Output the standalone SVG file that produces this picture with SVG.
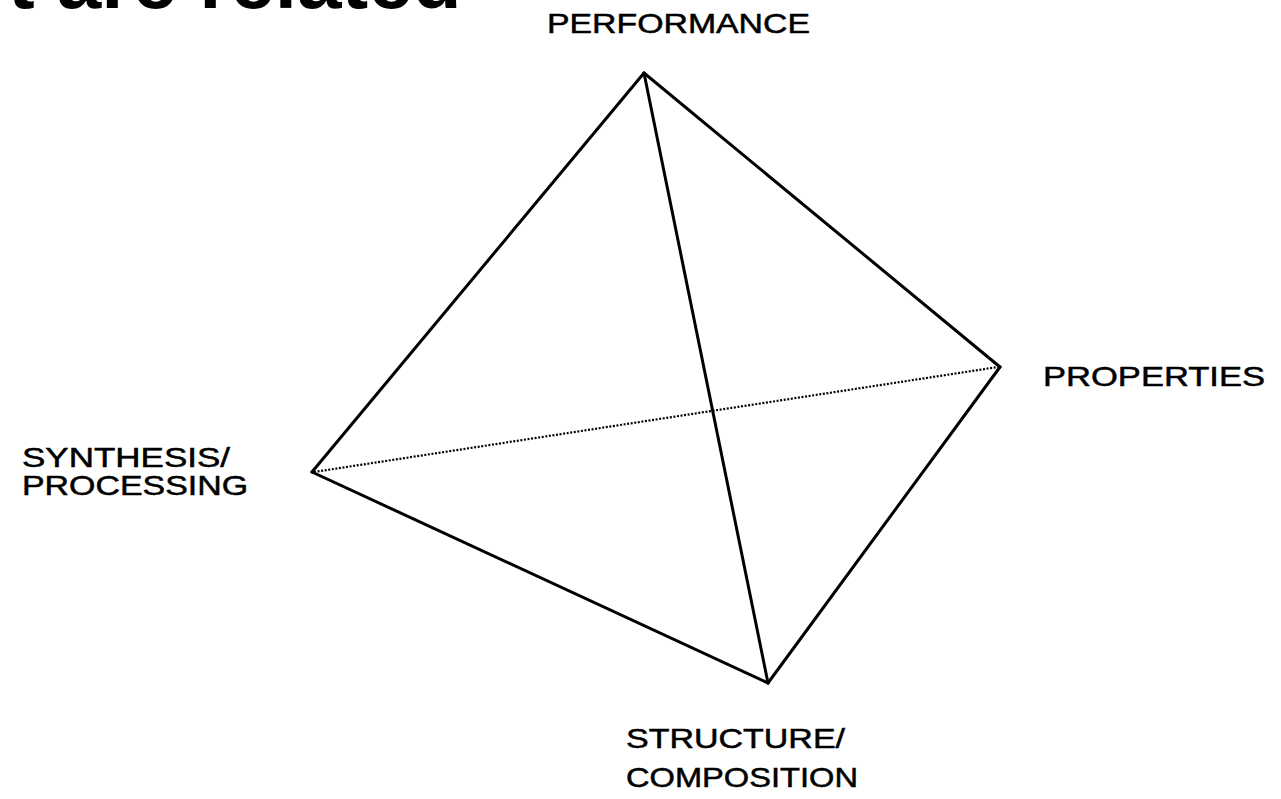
<svg xmlns="http://www.w3.org/2000/svg" width="1281" height="799" viewBox="0 0 1281 799">
<style>
.lbl{font-family:"Liberation Sans",Arial,sans-serif;font-size:28px;fill:#000;stroke:#000;stroke-width:0.5}
.edge{stroke:#000;stroke-width:3;fill:none;stroke-linecap:round;stroke-linejoin:round}
.hidden{stroke:#000;stroke-width:2.2;fill:none;stroke-dasharray:2 1.6}
.title{font-family:"Liberation Sans",Arial,sans-serif;font-size:80px;font-weight:bold;fill:#000}
</style>
<rect width="1281" height="799" fill="#fff"/>
<text class="title" x="8" y="8">t are related</text>
<g id="connectors">
<line class="hidden" x1="314" y1="472" x2="998" y2="367"/>
<line class="edge" x1="644" y1="73" x2="312" y2="472"/>
<line class="edge" x1="644" y1="73" x2="1000" y2="367"/>
<line class="edge" x1="644" y1="73" x2="768" y2="683"/>
<line class="edge" x1="312" y1="472" x2="768" y2="683"/>
<line class="edge" x1="1000" y1="367" x2="768" y2="683"/>
</g>
<g id="performance"><text class="lbl" x="547" y="33" textLength="263" lengthAdjust="spacingAndGlyphs">PERFORMANCE</text></g>
<g id="properties"><text class="lbl" x="1043" y="386" textLength="222" lengthAdjust="spacingAndGlyphs">PROPERTIES</text></g>
<g id="synthesis"><text class="lbl" x="22" y="467" textLength="208" lengthAdjust="spacingAndGlyphs">SYNTHESIS/</text><text class="lbl" x="22" y="495" textLength="226" lengthAdjust="spacingAndGlyphs">PROCESSING</text></g>
<g id="structure"><text class="lbl" x="626" y="748" textLength="219" lengthAdjust="spacingAndGlyphs">STRUCTURE/</text><text class="lbl" x="626" y="787" textLength="232" lengthAdjust="spacingAndGlyphs">COMPOSITION</text></g>
</svg>
